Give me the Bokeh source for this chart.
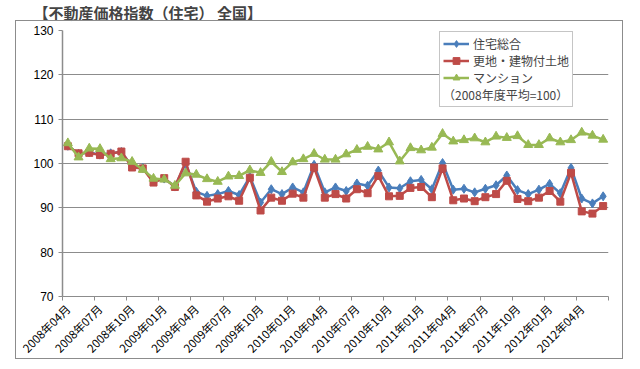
import math
from bokeh.plotting import figure
from bokeh.models import FixedTicker, Legend, LegendItem, Range1d, InlineStyleSheet
from bokeh.embed import file_html
from bokeh.resources import INLINE

# ---- data -------------------------------------------------------------
tick_labels = ["2008年04月", "2008年07月", "2008年10月", "2009年01月", "2009年04月",
               "2009年07月", "2009年10月", "2010年01月", "2010年04月", "2010年07月",
               "2010年10月", "2011年01月", "2011年04月", "2011年07月", "2011年10月",
               "2012年01月", "2012年04月"]

series_names = ["住宅総合", "更地・建物付土地", "マンション"]

jutaku_sogo = [104.0, 102.2, 102.5, 102.0, 102.3, 102.6, 99.4, 99.0, 96.0, 96.6,
               94.8, 100.0, 93.6, 92.7, 93.1, 93.8, 92.9, 97.0, 91.2, 94.2,
               93.1, 94.6, 93.5, 99.7, 93.5, 94.6, 93.8, 95.5, 95.0, 98.4,
               94.6, 94.4, 96.0, 96.3, 94.2, 100.1, 94.1, 94.3, 93.5, 94.3,
               95.1, 97.3, 94.0, 93.1, 94.1, 95.4, 93.3, 99.0, 92.1, 91.0,
               92.6]

sarachi = [103.9, 102.3, 102.4, 101.9, 102.2, 102.7, 99.1, 98.9, 95.7, 96.7,
           94.7, 100.4, 92.8, 91.4, 92.1, 92.6, 91.6, 96.8, 89.4, 92.3,
           91.6, 93.2, 92.3, 99.1, 92.3, 93.1, 92.1, 94.2, 93.3, 97.2,
           92.6, 92.7, 94.5, 94.7, 92.4, 98.9, 91.7, 92.1, 91.5, 92.4,
           93.1, 96.1, 92.0, 91.5, 92.3, 93.8, 91.4, 97.9, 89.2, 88.7,
           90.4]

mansion = [104.6, 101.4, 103.4, 103.3, 101.0, 101.2, 100.4, 98.6, 96.6, 96.4,
           95.0, 97.8, 97.5, 96.5, 95.9, 97.1, 97.2, 98.5, 97.9, 100.4,
           98.1, 100.3, 101.0, 102.2, 100.9, 100.9, 102.1, 103.1, 103.8, 103.2,
           104.8, 100.5, 103.5, 103.0, 103.6, 106.7, 105.0, 105.3, 105.7, 104.8,
           106.1, 105.8, 106.2, 104.2, 104.2, 105.7, 104.8, 105.3, 107.0, 106.3,
           105.4]

note_text = "（2008年度平均=100）"
title_text = "【不動産価格指数（住宅） 全国】"

# ---- figure -----------------------------------------------------------
n = len(jutaku_sogo)
x = list(range(n))

border_css = InlineStyleSheet(css="""
:host {
  margin-top: -5px;
}
:host::after {
  content: "";
  position: absolute;
  left: 15px;
  top: 25px;
  width: 606px;
  height: 337px;
  border: 1px solid #8c8c8c;
  pointer-events: none;
}
""")

p = figure(width=640, height=373, output_backend="svg", toolbar_location=None,
           x_range=Range1d(-0.5, n - 0.5), y_range=Range1d(70, 130),
           min_border_left=62, min_border_right=32, min_border_top=35,
           min_border_bottom=72, background_fill_color="white",
           border_fill_color="white", stylesheets=[border_css])
p.outline_line_color = None

p.title.text = title_text
p.title.text_font = "Noto Sans CJK JP"
p.title.text_font_size = "15px"
p.title.text_font_style = "bold"
p.title.align = "left"
p.title.offset = -29
p.title.standoff = 12
p.title.vertical_align = "top"

# axes
label_step = 3
p.xaxis.ticker = FixedTicker(ticks=[i * label_step for i in range(len(tick_labels))],
                             minor_ticks=[i * label_step - 0.5 for i in range(len(tick_labels) + 1)])
p.xaxis.major_label_overrides = {i * label_step: t for i, t in enumerate(tick_labels)}
p.xaxis.major_label_orientation = math.pi / 4
p.xaxis.major_tick_out = 0
p.xaxis.major_tick_in = 0
p.xaxis.minor_tick_out = 4
p.xaxis.minor_tick_in = 0
p.xaxis.minor_tick_line_color = "#8c8c8c"
p.xaxis.axis_line_color = "#8c8c8c"
p.xaxis.major_label_text_font = "Noto Sans CJK JP"
p.xaxis.major_label_text_font_size = "11.5px"
p.xaxis.major_label_text_color = "black"
p.xaxis.major_label_standoff = 6

p.yaxis.ticker = FixedTicker(ticks=[70, 80, 90, 100, 110, 120, 130])
p.yaxis.minor_tick_line_color = None
p.yaxis.major_tick_out = 4
p.yaxis.major_tick_in = 0
p.yaxis.major_tick_line_color = "#8c8c8c"
p.yaxis.axis_line_color = "#8c8c8c"
p.yaxis.axis_line_width = 1.5
p.yaxis.major_label_text_font = "Liberation Sans"
p.yaxis.major_label_text_font_size = "12px"
p.yaxis.major_label_text_color = "black"
p.yaxis.major_label_standoff = 5

p.xgrid.grid_line_color = None
p.ygrid.grid_line_color = "#8c8c8c"
p.ygrid.grid_line_width = 1

# series
colors = ["#4A7EBB", "#BE4B48", "#98B954"]
markers = ["diamond", "square", "triangle"]
sizes = [9, 7, 9]
items = []
for name, vals, c, m, s in zip(series_names, [jutaku_sogo, sarachi, mansion], colors, markers, sizes):
    l = p.line(x, vals, line_color=c, line_width=2.5)
    sc = p.scatter(x, vals, marker=m, size=s, fill_color=c, line_color=c)
    items.append(LegendItem(label=name, renderers=[l, sc]))

legend = Legend(items=items, location=(377, 189), title=note_text,
                title_location="below", title_text_font="Noto Sans CJK JP",
                title_text_font_size="12px", title_text_font_style="normal",
                title_standoff=0,
                label_text_font="Noto Sans CJK JP", label_text_font_size="12px",
                glyph_width=26, glyph_height=17, label_height=17,
                label_standoff=4, spacing=0, padding=3, margin=0,
                border_line_color="#8c8c8c", border_line_width=1,
                background_fill_color="white", background_fill_alpha=1)
p.add_layout(legend)

open("out.html", "w").write(file_html(p, INLINE))
